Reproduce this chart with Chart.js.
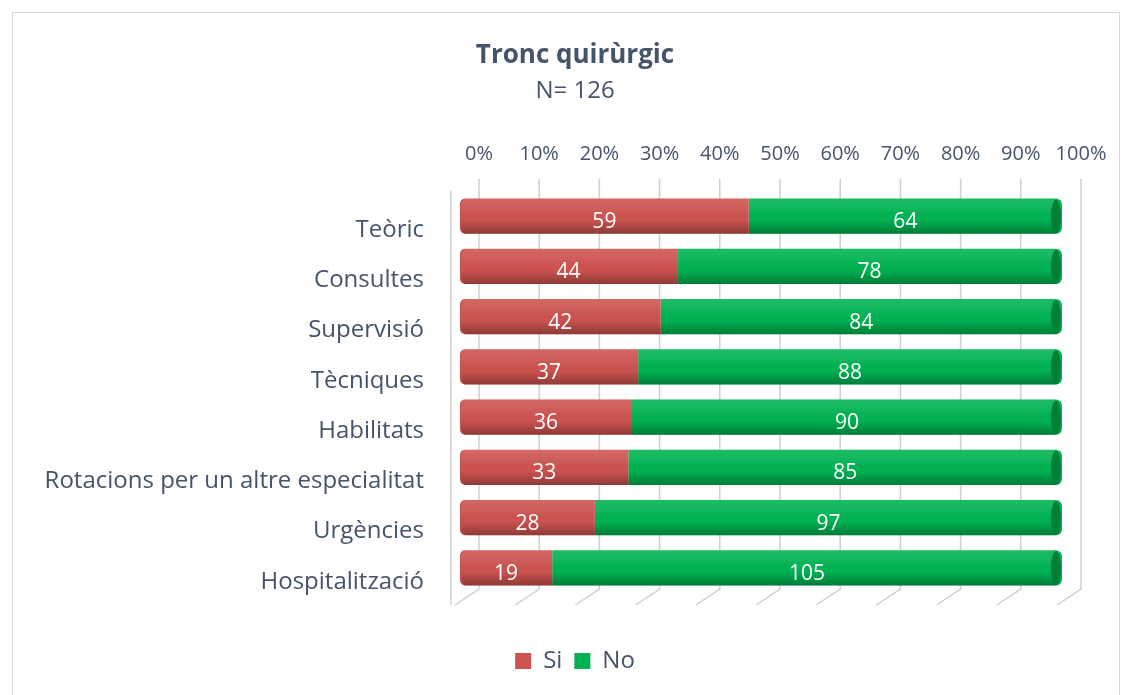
<!DOCTYPE html>
<html>
<head>
<meta charset="utf-8">
<script src="https://cdn.jsdelivr.net/npm/chart.js@4"></script>
<style>
  html, body { margin: 0; padding: 0; background: #fff; }
  #wrap { width: 1132px; height: 695px; position: relative; }
</style>
</head>
<body>
<div id="wrap"><canvas id="chart" width="1132" height="695"></canvas></div>
<script>
const categories = ['Teòric', 'Consultes', 'Supervisió', 'Tècniques', 'Habilitats',
  'Rotacions per un altre especialitat', 'Urgències', 'Hospitalització'];
const siCounts = [59, 44, 42, 37, 36, 33, 28, 19];
const noCounts = [64, 78, 84, 88, 90, 85, 97, 105];
const tickValues = [0, 10, 20, 30, 40, 50, 60, 70, 80, 90, 100];

// 100% stacked: turn counts into shares of each row
const siPct = siCounts.map((v, i) => v / (v + noCounts[i]) * 100);
const noPct = noCounts.map((v, i) => v / (siCounts[i] + v) * 100);

const textColor = '#44546a';
const font = '"Open Sans", Lato, sans-serif';
const gridShift = 19;

// let the long category names run left of the padded box
const widenY = {
  id: 'widenY',
  afterLayout(chart) { chart.scales.y.left = 12; }
};

// frame, back grid lines with 3D feet
const backdrop = {
  id: 'backdrop',
  beforeDraw(chart) {
    const ctx = chart.ctx;
    const x = chart.scales.x;
    const area = chart.chartArea;
    ctx.save();
    ctx.strokeStyle = '#d9d9d9';
    ctx.lineWidth = 1;
    ctx.strokeRect(12.5, 12.5, 1107, 700);
    ctx.strokeStyle = '#cfcfcf';
    ctx.lineWidth = 1.5;
    const top = area.top - 12, bot = area.bottom - 4;
    tickValues.forEach(v => {
      const gx = x.getPixelForValue(v) + gridShift;
      ctx.beginPath();
      ctx.moveTo(gx, top);
      ctx.lineTo(gx, bot);
      ctx.lineTo(gx - 24, bot + 16);
      ctx.stroke();
    });
    // left wall edge
    ctx.beginPath();
    ctx.moveTo(area.left - 9, area.top);
    ctx.lineTo(area.left - 9, bot + 16);
    ctx.stroke();
    ctx.restore();
  }
};

// cylinder shading and value labels
const barDecor = {
  id: 'barDecor',
  afterDatasetsDraw(chart) {
    const ctx = chart.ctx;
    ctx.save();
    chart.data.datasets.forEach((ds, di) => {
      const meta = chart.getDatasetMeta(di);
      meta.data.forEach((bar, i) => {
        const h = bar.height;
        const y0 = bar.y - h / 2;
        const left = Math.min(bar.x, bar.base), right = Math.max(bar.x, bar.base);
        const g = ctx.createLinearGradient(0, y0, 0, y0 + h);
        g.addColorStop(0, 'rgba(255,255,255,0.12)');
        g.addColorStop(0.3, 'rgba(255,255,255,0.06)');
        g.addColorStop(0.6, 'rgba(0,0,0,0)');
        g.addColorStop(1, 'rgba(0,0,0,0.30)');
        ctx.fillStyle = g;
        ctx.beginPath();
        if (di === 0) {
          ctx.moveTo(right, y0);
          ctx.lineTo(left + 5, y0);
          ctx.ellipse(left + 5, bar.y, 5, h / 2, 0, -Math.PI / 2, Math.PI / 2, true);
          ctx.lineTo(right, y0 + h);
        } else {
          ctx.moveTo(left, y0);
          ctx.lineTo(right - 6, y0);
          ctx.ellipse(right - 6, bar.y, 6, h / 2, 0, -Math.PI / 2, Math.PI / 2);
          ctx.lineTo(left, y0 + h);
        }
        ctx.closePath();
        ctx.fill();
        if (di === 1) {
          ctx.fillStyle = '#007f38';
          ctx.beginPath();
          ctx.ellipse(right - 6, bar.y, 5, h / 2 - 1, 0, 0, Math.PI * 2);
          ctx.fill();
        }
        const counts = di === 0 ? siCounts : noCounts;
        ctx.fillStyle = '#ffffff';
        ctx.font = '21px ' + font;
        ctx.textAlign = 'center';
        ctx.textBaseline = 'middle';
        ctx.fillText(String(counts[i]), (left + right) / 2, bar.y + 6);
      });
    });
    ctx.restore();
  }
};

new Chart(document.getElementById('chart'), {
  type: 'bar',
  data: {
    labels: categories,
    datasets: [
      { label: 'Si', data: siPct, backgroundColor: '#cc534f',
        borderRadius: { topLeft: 5, bottomLeft: 5 }, borderSkipped: false,
        barPercentage: 0.7, categoryPercentage: 1 },
      { label: 'No', data: noPct, backgroundColor: '#00b252',
        borderRadius: { topRight: 6, bottomRight: 6 }, borderSkipped: false,
        barPercentage: 0.7, categoryPercentage: 1 }
    ]
  },
  options: {
    indexAxis: 'y',
    responsive: false,
    animation: false,
    layout: { padding: { left: 88, right: 70, top: 0, bottom: 12 } },
    scales: {
      x: {
        position: 'top',
        stacked: true,
        min: 0,
        max: 100,
        afterFit: s => { s.height = 85; },
        afterBuildTicks: s => { s.ticks = tickValues.map(v => ({ value: v })); },
        grid: { display: false },
        border: { display: false },
        ticks: {
          color: textColor,
          font: { family: font, size: 20 },
          padding: 17,
          labelOffset: gridShift,
          maxRotation: 0,
          callback: v => v + '%'
        }
      },
      x2: {
        position: 'bottom',
        display: true,
        afterFit: s => { s.height = 44; },
        grid: { display: false },
        border: { display: false },
        ticks: { display: false }
      },
      y: {
        stacked: true,
        afterFit: s => { s.width = 372; },
        grid: { display: false },
        border: { display: false },
        ticks: {
          color: textColor,
          font: { family: font, size: 24 },
          padding: 28,
          labelOffset: 14
        }
      }
    },
    plugins: {
      title: {
        display: true,
        text: 'Tronc quirùrgic',
        color: textColor,
        font: { family: font, size: 26, weight: 'bold' },
        padding: { top: 40, bottom: 4 }
      },
      subtitle: {
        display: true,
        text: 'N= 126',
        color: textColor,
        font: { family: font, size: 24 },
        padding: { top: 2, bottom: 0 }
      },
      legend: {
        position: 'bottom',
        labels: {
          color: textColor,
          font: { family: font, size: 24 },
          boxWidth: 16,
          boxHeight: 16,
          padding: 12
        }
      },
      tooltip: { enabled: false }
    }
  },
  plugins: [widenY, backdrop, barDecor]
});
</script>
</body>
</html>
